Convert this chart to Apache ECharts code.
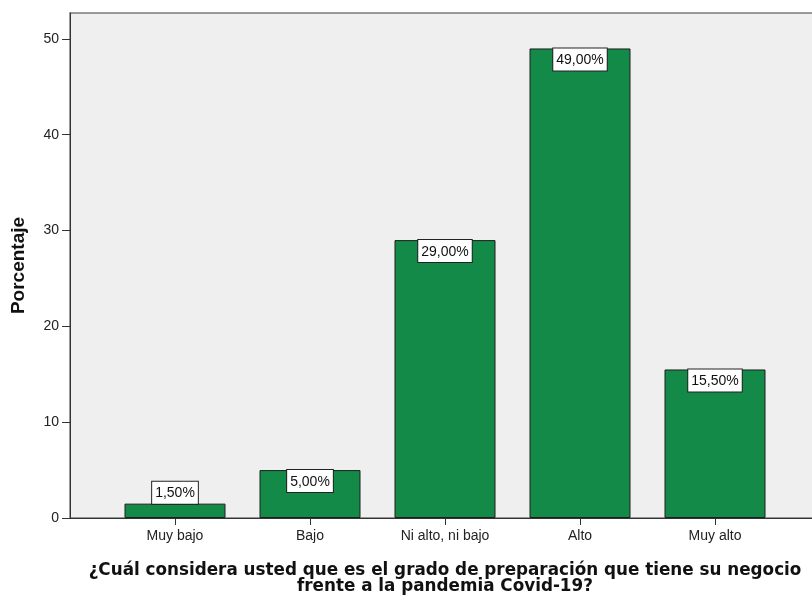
<!DOCTYPE html>
<html>
<head>
<meta charset="utf-8">
<script src="https://cdn.jsdelivr.net/npm/echarts@6/dist/echarts.min.js"></script>
<style>
  html, body { margin: 0; padding: 0; background: #fff; }
  #chart { width: 812px; height: 596px; }
</style>
</head>
<body>
<div id="chart"></div>
<script>
// datos
const categorias = ["Muy bajo", "Bajo", "Ni alto, ni bajo", "Alto", "Muy alto"];
const porcentajes = [1.5, 5.0, 29.0, 49.0, 15.5];
const ticksY = [0, 10, 20, 30, 40, 50];
const posCategorias = [0, 1, 2, 3, 4];

const tituloX = "¿Cuál considera usted que es el grado de preparación que tiene su negocio\nfrente a la pandemia Covid-19?";
const tituloY = "Porcentaje";

const myChart = echarts.init(document.getElementById("chart"));

const fmt = (v) => v.toFixed(2).replace(".", ",") + "%";

myChart.setOption({
  animation: false,
  grid: {
    left: 70,
    right: -8,
    top: 13,
    bottom: 78,
    outerBoundsMode: "none",
    containLabel: false,
    show: true,
    backgroundColor: "#efefef",
    borderColor: "#7a7a7a",
    borderWidth: 1.5,
  },
  xAxis: {
    type: "value",
    min: -105 / 135,
    max: 4 + 105 / 135,
    splitLine: { show: false },
    axisLine: { show: true, onZero: false, lineStyle: { color: "#333", width: 1 } },
    axisTick: {
      show: true,
      customValues: posCategorias,
      length: 7,
      lineStyle: { color: "#333" },
    },
    axisLabel: {
      customValues: posCategorias,
      formatter: (v) => categorias[Math.round(v)],
      color: "#222",
      fontFamily: "Liberation Sans",
      fontSize: 14,
      margin: 11,
    },
    name: tituloX,
    nameLocation: "middle",
    nameGap: 45,
    nameTextStyle: {
      fontFamily: "DejaVu Sans",
      fontWeight: "bold",
      fontSize: 16.8,
      lineHeight: 16,
      color: "#111",
    },
  },
  yAxis: {
    type: "value",
    min: 0,
    max: 52.7,
    splitLine: { show: false },
    axisLine: { show: true, onZero: false, lineStyle: { color: "#333", width: 1 } },
    axisTick: {
      show: true,
      customValues: ticksY,
      length: 8,
      lineStyle: { color: "#333" },
    },
    axisLabel: {
      customValues: ticksY,
      color: "#222",
      fontFamily: "Liberation Sans",
      fontSize: 14,
      margin: 11,
    },
    name: tituloY,
    nameLocation: "middle",
    nameGap: 42,
    nameTextStyle: {
      fontFamily: "Liberation Sans",
      fontWeight: "bold",
      fontSize: 19,
      color: "#111",
    },
  },
  series: [
    {
      type: "bar",
      barWidth: 101,
      data: porcentajes.map((v, i) => ({
        value: [posCategorias[i], v],
        label: { position: v < 3 ? "top" : "insideTop" },
      })),
      itemStyle: {
        color: "#138a48",
        borderColor: "#1e1e1e",
        borderWidth: 1,
      },
      label: {
        show: true,
        distance: 0,
        formatter: (p) => fmt(p.value[1]),
        color: "#111",
        fontFamily: "Liberation Sans",
        fontSize: 14,
        backgroundColor: "#fff",
        borderColor: "#222",
        borderWidth: 1,
        padding: [5, 3, 3, 3],
      },
    },
  ],
});
</script>
</body>
</html>
